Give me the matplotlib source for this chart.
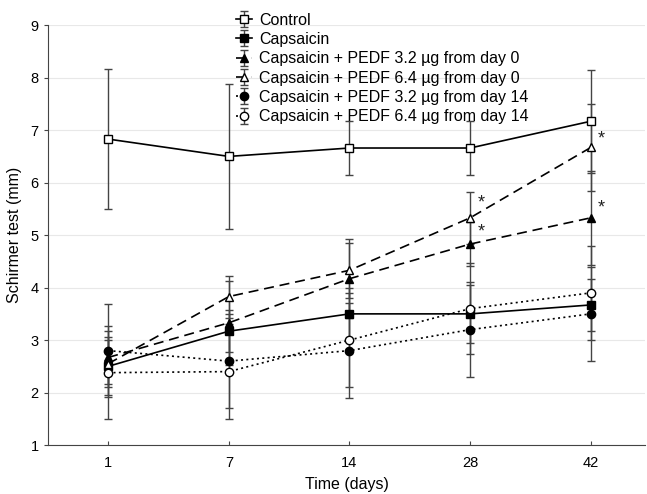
import matplotlib
matplotlib.use("Agg")
import matplotlib.pyplot as plt
import numpy as np

plt.rcParams['font.family'] = ['Liberation Sans', 'DejaVu Sans']

days = ["1", "7", "14", "28", "42"]

control = [6.83, 6.50, 6.66, 6.66, 7.17]
control_err = [1.33, 1.38, 0.52, 0.52, 0.98]

capsaicin = [2.50, 3.17, 3.50, 3.50, 3.67]
capsaicin_err = [0.55, 0.40, 0.50, 0.55, 0.50]

pedf32_d0 = [2.67, 3.33, 4.17, 4.83, 5.33]
pedf32_d0_err = [0.50, 0.80, 0.75, 0.42, 0.90]

pedf64_d0 = [2.55, 3.83, 4.33, 5.33, 6.67]
pedf64_d0_err = [0.45, 0.40, 0.52, 0.50, 0.82]

pedf32_d14 = [2.80, 2.60, 2.80, 3.20, 3.50]
pedf32_d14_err = [0.89, 0.90, 0.90, 0.90, 0.90]

pedf64_d14 = [2.38, 2.40, 3.00, 3.60, 3.90]
pedf64_d14_err = [0.89, 0.90, 0.90, 0.87, 0.90]

labels = ["Control", "Capsaicin",
          "Capsaicin + PEDF 3.2 µg from day 0",
          "Capsaicin + PEDF 6.4 µg from day 0",
          "Capsaicin + PEDF 3.2 µg from day 14",
          "Capsaicin + PEDF 6.4 µg from day 14"]

# significance stars: (index, value)
stars_x = [3, 3, 4, 4]
stars_y = [5.62, 5.06, 6.83, 5.52]

fig = plt.figure(figsize=(6.47, 4.94), dpi=100)
ax = fig.add_axes([0.074, 0.099, 0.923, 0.850])

x = np.arange(len(days))
series = [
    (control, control_err, 's', 'white', '-'),
    (capsaicin, capsaicin_err, 's', 'black', '-'),
    (pedf32_d0, pedf32_d0_err, '^', 'black', (0, (6, 3.5))),
    (pedf64_d0, pedf64_d0_err, '^', 'white', (0, (6, 3.5))),
    (pedf32_d14, pedf32_d14_err, 'o', 'black', (0, (1.2, 2))),
    (pedf64_d14, pedf64_d14_err, 'o', 'white', (0, (1.2, 2))),
]

for (vals, errs, mk, fc, ls), lab in zip(series, labels):
    ax.errorbar(x, vals, yerr=errs, fmt=mk, linestyle=ls, color='black',
                ecolor='#444444', elinewidth=1.0, capsize=3, capthick=1.0,
                markerfacecolor=fc, markeredgecolor='black', markersize=6,
                linewidth=1.2, label=lab, zorder=3)

for sx, sy in zip(stars_x, stars_y):
    ax.text(sx + 0.06, sy, "*", fontsize=13, ha='left', va='center', color='#222222')

ax.set_xlim(-0.5, 4.45)
ax.set_ylim(1, 9)
ax.set_xticks(x)
ax.set_xticklabels(days)
ax.set_yticks(range(1, 10))
ax.yaxis.grid(True, color='#e8e8e8', linewidth=0.8)
ax.set_axisbelow(True)
for s in ['top', 'right']:
    ax.spines[s].set_visible(False)
for s in ['left', 'bottom']:
    ax.spines[s].set_color('#444444')
ax.tick_params(axis='x', direction='in', length=3, labelsize=10.5, pad=8, color='#444444')
ax.tick_params(axis='y', direction='out', length=3, labelsize=10.5, color='#444444')
ax.set_xlabel("Time (days)", fontsize=11.5, labelpad=5)
ax.set_ylabel("Schirmer test (mm)", fontsize=11.5, labelpad=6)

leg = ax.legend(loc='upper left', bbox_to_anchor=(0.305, 1.045), frameon=False,
                fontsize=11.5, handlelength=1.0, handletextpad=0.4,
                labelspacing=0.27, borderaxespad=0)

fig.savefig("out.png", dpi=100)
